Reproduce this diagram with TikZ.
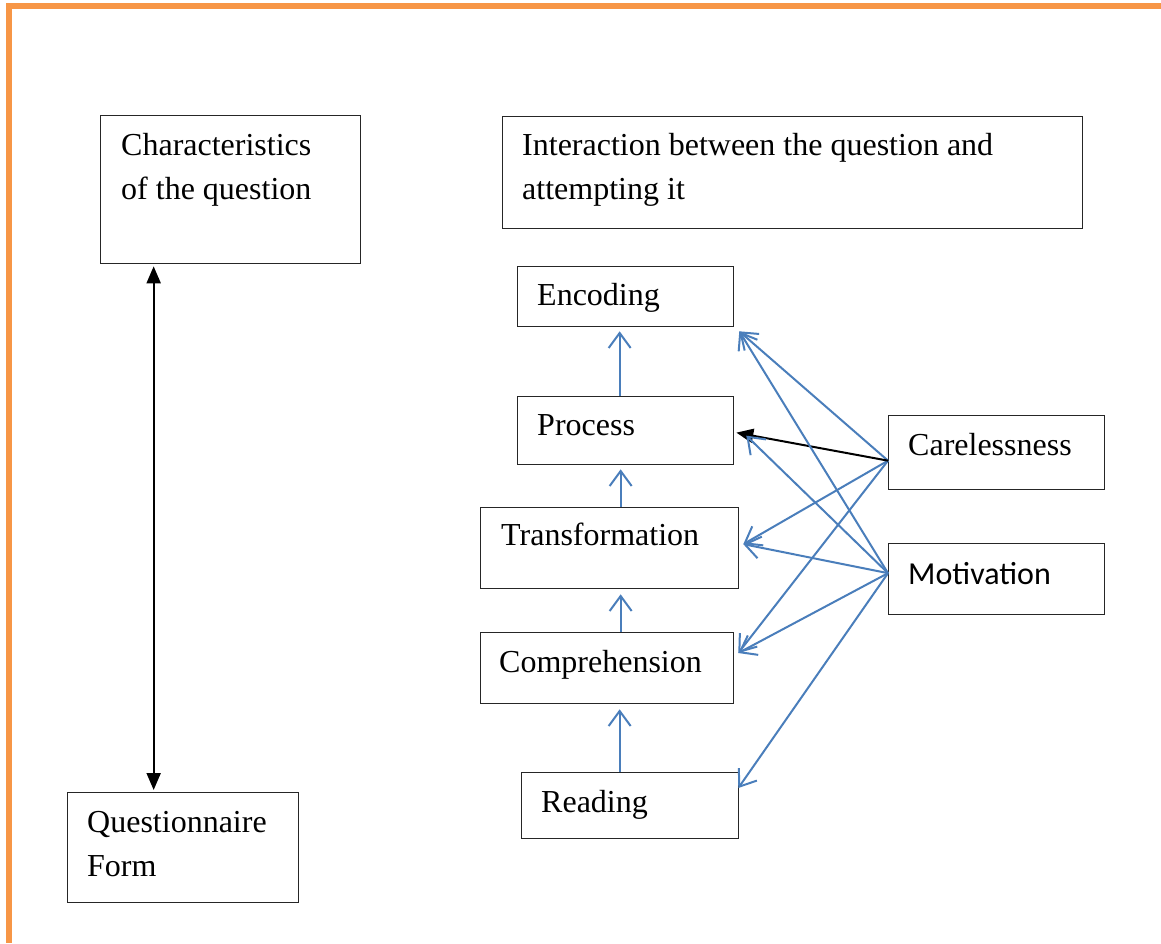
\documentclass[tikz,border=0pt]{standalone}
\usepackage{fontspec}
\setmainfont{Liberation Serif}
\newfontfamily\carlitofont{Carlito}
\usetikzlibrary{arrows.meta}
\definecolor{orng}{HTML}{F79646}
\definecolor{blu}{HTML}{4A7EBB}
\begin{document}
\begin{tikzpicture}[x=1pt,y=-1pt,
  box/.style={draw=black!85, line width=1.3pt, anchor=north west, inner sep=0pt},
  txt/.style={anchor=base west, inner sep=0pt, align=left, font=\fontsize{32}{44}\selectfont},
  bl/.style={draw=blu, line width=2pt, -{Straight Barb[length=15pt,width=22pt]}},
  bk/.style={draw=black, line width=2pt}
]
\useasboundingbox (0,0) rectangle (1161,943);
% orange frame
\fill[orng] (6,3) rectangle (1161,9);
\fill[orng] (6,3) rectangle (12,943);

% boxes
\node[box, minimum width=260pt, minimum height=148pt] (char) at (100,115) {};
\node[box, minimum width=231pt, minimum height=110pt] (quest) at (67,792) {};
\node[box, minimum width=580pt, minimum height=112pt] (inter) at (502,116) {};
\node[box, minimum width=216pt, minimum height=60pt] (enc) at (517,266) {};
\node[box, minimum width=216pt, minimum height=68pt] (proc) at (517,396) {};
\node[box, minimum width=258pt, minimum height=81pt] (trans) at (480,507) {};
\node[box, minimum width=253pt, minimum height=71pt] (comp) at (480,632) {};
\node[box, minimum width=217pt, minimum height=66pt] (read) at (521,772) {};
\node[box, minimum width=216pt, minimum height=74pt] (carel) at (888,415) {};
\node[box, minimum width=216pt, minimum height=71pt] (motiv) at (888,543) {};

% texts (multi-line nodes: base is the last line)
\node[txt] (charT) at (121,199) {Characteristics\\of the question};
\node[txt] (questT) at (87,876) {Questionnaire\\Form};
\node[txt] (interT) at (522,199) {Interaction between the question and\\attempting it};
\node[txt] (encT) at (537,305) {Encoding};
\node[txt] (procT) at (537,435) {Process};
\node[txt] (transT) at (501,545) {Transformation};
\node[txt] (compT) at (499,672) {Comprehension};
\node[txt] (readT) at (541,812) {Reading};
\node[txt] (carelT) at (908,455) {Carelessness};
\node[txt, font=\fontsize{32}{44}\carlitofont] (motivT) at (908,584) {Motivation};

% black double arrow
\draw[bk, {Triangle[length=17pt,width=14pt]}-{Triangle[length=17pt,width=14pt]}]
  ([xshift=-77pt,yshift=-2pt]char.south) -- ([xshift=-29.5pt,yshift=2pt]quest.north);

% vertical blue arrows
\draw[bl] ([xshift=-6pt]proc.north) -- ([xshift=-6pt,yshift=-4pt]proc.north |- enc.south);
\draw[bl] ([xshift=11pt]trans.north) -- ([xshift=11pt,yshift=-4pt]trans.north |- proc.south);
\draw[bl] ([xshift=13.5pt]comp.north) -- ([xshift=11pt,yshift=-5pt]trans.south);
\draw[bl] ([xshift=-10.5pt]read.north) -- ([xshift=12.5pt,yshift=-5pt]comp.south);

% sources
\coordinate (cs) at ([yshift=-8pt]carel.west);
\coordinate (ms) at ([yshift=6pt]motiv.west);
% targets
\coordinate (tEnc) at ([xshift=5pt,yshift=-4pt]enc.south east);
\coordinate (tProcK) at ([xshift=2pt,yshift=-2pt]proc.east);
\coordinate (tProcB) at ([xshift=12pt,yshift=-5pt]proc.east);
\coordinate (tTrans) at ([xshift=4pt,yshift=4pt]trans.east);
\coordinate (tComp) at ([xshift=4pt,yshift=-21pt]comp.north east);
\coordinate (tRead) at ([xshift=-1pt,yshift=-16pt]read.north east);

% from Carelessness
\draw[bl] (cs) -- (tEnc);
\draw[bl] (cs) -- (tTrans);
\draw[bl] (cs) -- (tComp);
\draw[bk, -{Triangle[length=17pt,width=14pt]}] (cs) -- (tProcK);
% from Motivation
\draw[bl] (ms) -- (tEnc);
\draw[bl] (ms) -- (tProcB);
\draw[bl] (ms) -- (tTrans);
\draw[bl] (ms) -- (tComp);
\draw[bl] (ms) -- (tRead);
\end{tikzpicture}
\end{document}
